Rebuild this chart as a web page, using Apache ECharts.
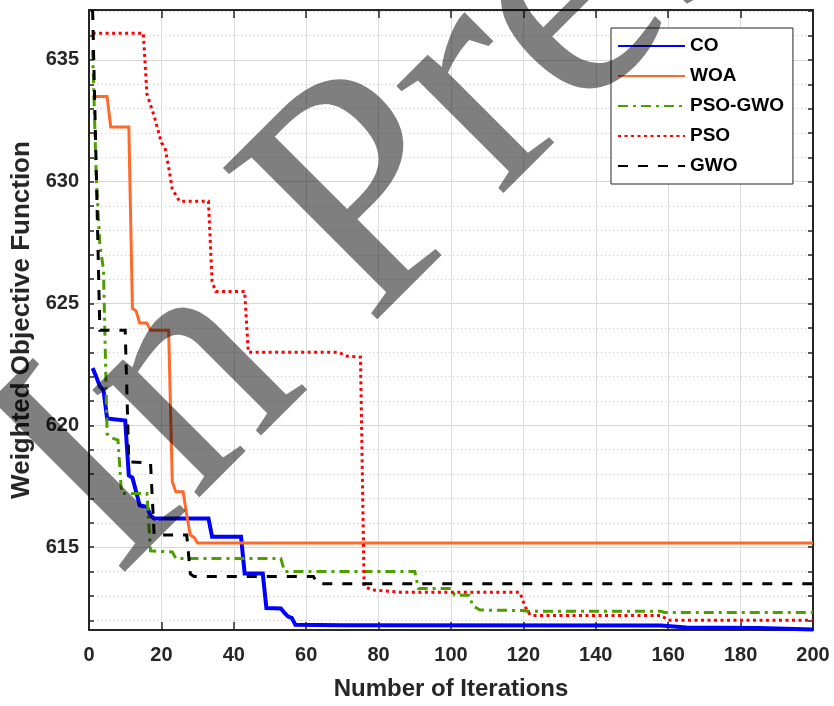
<!DOCTYPE html>
<html>
<head>
<meta charset="utf-8">
<script src="https://cdn.jsdelivr.net/npm/echarts@6/dist/echarts.min.js"></script>
<style>
html,body{margin:0;padding:0;background:#fff;}
#chart{width:834px;height:706px;}
</style>
</head>
<body>
<div id="chart"></div>
<script>
// ---- data (iteration, weighted objective function) ----
const seriesNames = ['CO', 'WOA', 'PSO-GWO', 'PSO', 'GWO'];

const coX  = [1, 2, 3, 4, 5, 10, 11, 12, 14, 16, 17, 18, 33, 34, 42, 43, 48, 49, 53, 54, 55, 56, 57, 70, 158, 165, 185, 200];
const coY  = [622.35, 622.0, 621.6, 621.45, 620.28, 620.2, 617.95, 617.85, 616.72, 616.65, 616.3, 616.18, 616.18, 615.43, 615.43, 613.92, 613.92, 612.5, 612.48, 612.3, 612.15, 612.1, 611.82, 611.8, 611.78, 611.7, 611.68, 611.62];

const woaX = [1, 5, 6, 11, 12, 13, 14, 16, 17, 22, 23, 24, 26, 27, 28, 29, 30, 200];
const woaY = [633.5, 633.5, 632.25, 632.25, 624.8, 624.7, 624.2, 624.2, 623.9, 623.9, 617.7, 617.27, 617.27, 616.3, 615.5, 615.4, 615.17, 615.17];

const pgX  = [1, 2, 3, 4, 5, 6, 8, 9, 16, 17, 23, 24, 53, 54, 90, 91, 100, 101, 105, 106, 108, 120, 121, 158, 159, 200];
const pgY  = [635.4, 630.2, 627.4, 626.4, 619.65, 619.5, 619.4, 617.2, 617.2, 614.85, 614.8, 614.54, 614.54, 614.0, 614.0, 613.3, 613.3, 613.03, 613.03, 612.6, 612.42, 612.4, 612.37, 612.37, 612.32, 612.32];

const psoX = [1, 15, 16, 18, 20, 21, 22, 23, 25, 33, 34, 35, 43, 44, 69, 71, 75, 76, 78, 86, 119, 120, 121, 122, 158, 160, 200];
const psoY = [636.1, 636.1, 633.6, 632.7, 631.6, 631.4, 630.6, 629.7, 629.2, 629.2, 625.9, 625.5, 625.5, 623.0, 623.0, 622.85, 622.8, 613.4, 613.25, 613.15, 613.15, 612.75, 612.4, 612.2, 612.2, 612.0, 612.0];

const gwoX = [1, 2, 3, 10, 11, 17, 18, 27, 28, 29, 62, 63, 200];
const gwoY = [637.05, 630.5, 623.9, 623.9, 618.5, 618.45, 615.5, 615.5, 613.9, 613.8, 613.8, 613.5, 613.5];

const xTicks = [0, 20, 40, 60, 80, 100, 120, 140, 160, 180, 200];
const yTicks = [615, 620, 625, 630, 635];
const yMin = 611.6, yMax = 637.05;
const watermarkText = 'In Press';

// ---- build ----
const zip = (xs, ys) => xs.map((x, i) => [x, ys[i]]);
const FONT = '"Liberation Sans", Arial, Helvetica, sans-serif';
const AX = '#262626';

const styles = [
  { color: '#0000ff', width: 4, type: 'solid' },
  { color: '#ff6a2b', width: 3, type: 'solid' },
  { color: '#4d9f00', width: 3, type: [10, 5, 3, 5] },
  { color: '#ff0000', width: 3, type: [3, 3.5] },
  { color: '#000000', width: 3, type: [10, 10] }
];
const datas = [zip(coX, coY), zip(woaX, woaY), zip(pgX, pgY), zip(psoX, psoY), zip(gwoX, gwoY)];

const series = seriesNames.map((n, i) => ({
  name: n,
  type: 'line',
  data: datas[i],
  xAxisIndex: 0,
  yAxisIndex: 0,
  symbol: 'none',
  showSymbol: false,
  smooth: false,
  color: styles[i].color,
  lineStyle: { color: styles[i].color, width: styles[i].width, type: styles[i].type, cap: 'butt', join: 'miter' },
  z: 3 + i
}));

const chart = echarts.init(document.getElementById('chart'), null, { renderer: 'canvas' });
chart.setOption({
  animation: false,
  backgroundColor: '#ffffff',
  grid: { left: 89, right: 21, top: 10, bottom: 76, containLabel: false },
  xAxis: [
    {
      type: 'value', position: 'bottom', min: 0, max: 200, interval: 20,
      axisLine: { show: true, onZero: false, lineStyle: { color: AX, width: 2 } },
      axisTick: { show: true, inside: true, length: 8, lineStyle: { color: AX, width: 1.5 } },
      axisLabel: {
        show: true, margin: 15, color: AX, fontSize: 20, fontWeight: 'bold', fontFamily: FONT,
        formatter: v => (xTicks.indexOf(v) >= 0 ? String(v) : '')
      },
      splitLine: { show: true, lineStyle: { color: '#dcdcdc', width: 1 } },
      name: 'Number of Iterations', nameLocation: 'middle', nameGap: 47,
      nameTextStyle: { color: AX, fontSize: 24, fontWeight: 'bold', fontFamily: FONT }
    },
    {
      type: 'value', position: 'top', min: 0, max: 200, interval: 20,
      axisLine: { show: true, onZero: false, lineStyle: { color: AX, width: 2 } },
      axisTick: { show: true, inside: true, length: 8, lineStyle: { color: AX, width: 1.5 } },
      axisLabel: { show: false },
      splitLine: { show: false }
    }
  ],
  yAxis: [
    {
      type: 'value', position: 'left', min: yMin, max: yMax, splitNumber: 5,
      axisLine: { show: true, onZero: false, lineStyle: { color: AX, width: 2 } },
      axisTick: { show: false },
      axisLabel: {
        show: true, margin: 10, color: AX, fontSize: 20, fontWeight: 'bold', fontFamily: FONT,
        showMinLabel: false, showMaxLabel: false,
        formatter: v => (yTicks.some(t => Math.abs(t - v) < 1e-6) ? String(Math.round(v)) : '')
      },
      splitLine: { show: true, lineStyle: { color: '#dcdcdc', width: 1 } },
      name: 'Weighted Objective Function', nameLocation: 'middle', nameGap: 53,
      nameTextStyle: { color: AX, fontSize: 26, fontWeight: 'bold', fontFamily: FONT }
    },
    {
      type: 'value', position: 'left', min: yMin, max: yMax, splitNumber: 25,
      axisLine: { show: false },
      axisTick: { show: true, inside: true, length: 5, lineStyle: { color: AX, width: 1.5 } },
      axisLabel: { show: false },
      splitLine: { show: true, lineStyle: { color: '#c8c8c8', width: 1, type: [1, 3] } }
    },
    {
      type: 'value', position: 'right', min: yMin, max: yMax, splitNumber: 25,
      axisLine: { show: true, onZero: false, lineStyle: { color: AX, width: 2 } },
      axisTick: { show: true, inside: true, length: 5, lineStyle: { color: AX, width: 1.5 } },
      axisLabel: { show: false },
      splitLine: { show: false }
    }
  ],
  legend: {
    data: seriesNames,
    orient: 'vertical',
    left: 611, top: 28,
    padding: [8, 9, 8, 6],
    itemWidth: 67, itemHeight: 14, itemGap: 10,
    backgroundColor: '#ffffff',
    borderColor: AX, borderWidth: 1, borderRadius: 0,
    textStyle: { color: '#000', fontSize: 19, fontWeight: 'bold', fontFamily: FONT, lineHeight: 20 },
    itemStyle: { opacity: 0 },
    selectedMode: false
  },
  graphic: [
    {
      type: 'text', x: 55, y: 519, rotation: Math.PI / 4, z: 100, silent: true,
      style: {
        text: watermarkText, fill: 'rgba(0,0,0,0.5)',
        font: '330px "Liberation Serif", "Times New Roman", serif',
        textAlign: 'left', textVerticalAlign: 'middle', verticalAlign: 'middle'
      }
    }
  ],
  series: series
});
</script>
</body>
</html>
